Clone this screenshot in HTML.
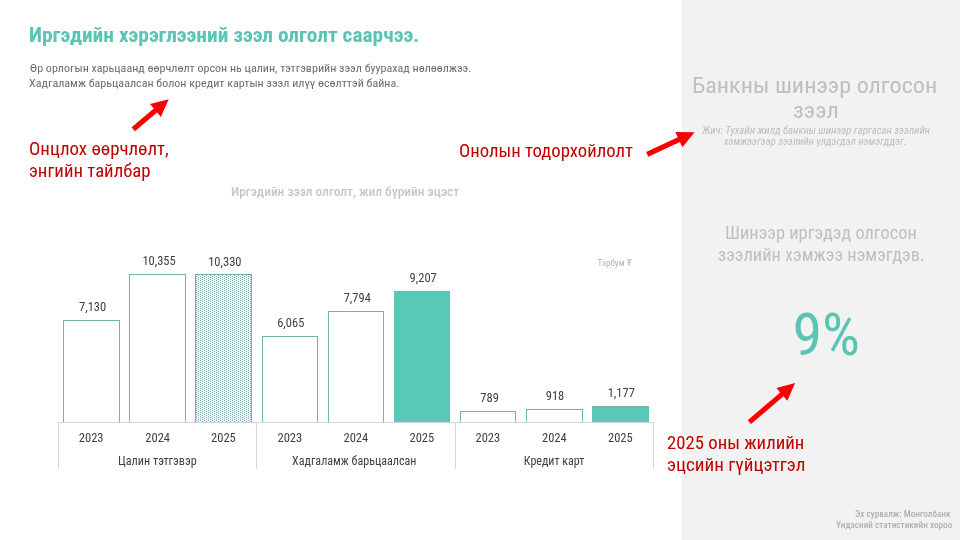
<!DOCTYPE html>
<html lang="mn">
<head>
<meta charset="utf-8">
<title>Иргэдийн хэрэглээний зээл олголт саарчээ.</title>
<style>
html,body{margin:0;padding:0;}
body{width:960px;height:540px;overflow:hidden;position:relative;background:#ffffff;font-family:'Roboto Condensed','Liberation Sans Narrow','Liberation Sans',sans-serif;}
#panel{position:absolute;left:682px;top:0;width:278px;height:540px;background:#f2f2f2;}
svg{position:absolute;left:0;top:0;}
.t{position:absolute;white-space:nowrap;transform-origin:0 0;}
</style>
</head>
<body>
<div id="panel"></div>
<svg width="960" height="540" viewBox="0 0 960 540" shape-rendering="crispEdges">
<defs>
<pattern id="dots" patternUnits="userSpaceOnUse" x="0" y="0" width="4" height="2">
<rect x="0" y="0" width="4" height="2" fill="#ebf8f8"/>
<rect x="0" y="0" width="1" height="1" fill="#86aeb3"/>
<rect x="2" y="1" width="1" height="1" fill="#86aeb3"/>
</pattern>
</defs>
<rect x="63" y="320" width="57" height="102" fill="#72b3a9"/>
<rect x="64" y="321" width="55" height="101" fill="#ffffff"/>
<rect x="129" y="274" width="57" height="148" fill="#72b3a9"/>
<rect x="130" y="275" width="55" height="147" fill="#ffffff"/>
<rect x="195" y="274" width="57" height="148" fill="#72b3a9"/>
<rect x="196" y="275" width="55" height="147" fill="url(#dots)"/>
<rect x="262" y="336" width="56" height="86" fill="#72b3a9"/>
<rect x="263" y="337" width="54" height="85" fill="#ffffff"/>
<rect x="328" y="311" width="56" height="111" fill="#72b3a9"/>
<rect x="329" y="312" width="54" height="110" fill="#ffffff"/>
<rect x="394" y="291" width="56" height="131" fill="#5ac8b7"/>
<rect x="394" y="291" width="56" height="1" fill="#6db8ab"/>
<rect x="460" y="411" width="56" height="11" fill="#72b3a9"/>
<rect x="461" y="412" width="54" height="10" fill="#ffffff"/>
<rect x="526" y="409" width="57" height="13" fill="#72b3a9"/>
<rect x="527" y="410" width="55" height="12" fill="#ffffff"/>
<rect x="592" y="406" width="57" height="16" fill="#5ac8b7"/>
<rect x="592" y="406" width="57" height="1" fill="#6db8ab"/>
<rect x="58" y="422" width="596" height="1" fill="#d6d6d6"/>
<rect x="58" y="422" width="1" height="47" fill="#d6d6d6"/>
<rect x="256" y="422" width="1" height="47" fill="#d6d6d6"/>
<rect x="455" y="422" width="1" height="47" fill="#d6d6d6"/>
<rect x="653" y="422" width="1" height="47" fill="#d6d6d6"/>
</svg>
<div class="t" style="left:29.06px;top:21.50px;font-size:20.5px;line-height:26.65px;color:#5bc4b2;font-weight:700;transform:scaleX(1.0433);">Иргэдийн хэрэглээний зээл олголт саарчээ.</div>
<div class="t" style="left:30.00px;top:61.90px;font-size:11.1px;line-height:14.43px;color:#6c6c6c;transform:scaleX(1.0862);">Өр орлогын харьцаанд өөрчлөлт орсон нь цалин, тэтгэврийн зээл буурахад нөлөөлжээ.</div>
<div class="t" style="left:28.91px;top:76.50px;font-size:11.1px;line-height:14.43px;color:#6c6c6c;transform:scaleX(1.0878);">Хадгаламж барьцаалсан болон кредит картын зээл илүү өсөлттэй байна.</div>
<div class="t" style="left:28.69px;top:136.50px;font-size:18.6px;line-height:24.18px;color:#c00000;transform:scaleX(1.0132);">Онцлох өөрчлөлт,</div>
<div class="t" style="left:28.99px;top:158.90px;font-size:18.6px;line-height:24.18px;color:#c00000;transform:scaleX(1.0084);">энгийн тайлбар</div>
<div class="t" style="left:458.70px;top:138.90px;font-size:18.6px;line-height:24.18px;color:#c00000;transform:scaleX(1.0047);">Онолын тодорхойлолт</div>
<div class="t" style="left:667.48px;top:430.60px;font-size:18.4px;line-height:23.92px;color:#c00000;transform:scaleX(1.0180);">2025 оны жилийн</div>
<div class="t" style="left:667.26px;top:452.60px;font-size:18.4px;line-height:23.92px;color:#c00000;transform:scaleX(1.0351);">эцсийн гүйцэтгэл</div>
<div class="t" style="left:230.81px;top:185.00px;font-size:12.3px;line-height:15.99px;color:#c6c6c6;font-weight:500;transform:scaleX(1.0875);">Иргэдийн зээл олголт, жил бүрийн эцэст</div>
<div class="t" style="left:597.50px;top:257.80px;font-size:9.1px;line-height:11.83px;color:#b2b2b2;">Тэрбум <span style="font-family:'DejaVu Sans Condensed',sans-serif">₮</span></div>
<div class="t" style="left:692.49px;top:70.70px;font-size:22.9px;line-height:29.77px;color:#bfbfbf;transform:scaleX(1.0537);">Банкны шинээр олгосон</div>
<div class="t" style="left:792.80px;top:96.20px;font-size:22.9px;line-height:29.77px;color:#bfbfbf;transform:scaleX(1.0537);">зээл</div>
<div class="t" style="left:701.80px;top:124.00px;font-size:10.7px;line-height:13.91px;color:#bdbdbd;font-style:italic;transform:scaleX(1.0075);">Жич: Тухайн жилд банкны шинээр гаргасан зээлийн</div>
<div class="t" style="left:724.10px;top:135.30px;font-size:10.7px;line-height:13.91px;color:#bdbdbd;font-style:italic;transform:scaleX(1.0044);">хэмжээгээр зээлийн үлдэгдэл нэмэгддэг.</div>
<div class="t" style="left:725.37px;top:220.75px;font-size:17.9px;line-height:23.27px;color:#bfbfbf;transform:scaleX(1.0262);">Шинээр иргэдэд олгосон</div>
<div class="t" style="left:717.87px;top:242.60px;font-size:17.9px;line-height:23.27px;color:#bfbfbf;transform:scaleX(1.0261);">зээлийн хэмжээ нэмэгдэв.</div>
<div class="t" style="left:792.45px;top:296.00px;font-size:60.0px;line-height:78.0px;color:#5bc4b2;">9%</div>
<div class="t" style="left:855.00px;top:508.90px;font-size:8.9px;line-height:11.57px;color:#b0b0b0;font-weight:500;transform:scaleX(1.0348);">Эх сурвалж: Монголбанк</div>
<div class="t" style="left:836.10px;top:519.80px;font-size:8.9px;line-height:11.57px;color:#b0b0b0;font-weight:500;transform:scaleX(1.0393);">Үндэсний статистикийн хороо</div>
<div class="t" style="left:79.00px;top:299.00px;font-size:12.5px;line-height:16.25px;color:#404040;">7,130</div>
<div class="t" style="left:142.38px;top:252.80px;font-size:12.5px;line-height:16.25px;color:#404040;">10,355</div>
<div class="t" style="left:208.20px;top:253.90px;font-size:12.5px;line-height:16.25px;color:#404040;">10,330</div>
<div class="t" style="left:277.20px;top:315.00px;font-size:12.5px;line-height:16.25px;color:#404040;">6,065</div>
<div class="t" style="left:343.70px;top:289.90px;font-size:12.5px;line-height:16.25px;color:#404040;">7,794</div>
<div class="t" style="left:409.60px;top:269.90px;font-size:12.5px;line-height:16.25px;color:#404040;">9,207</div>
<div class="t" style="left:480.35px;top:389.90px;font-size:12.5px;line-height:16.25px;color:#404040;">789</div>
<div class="t" style="left:545.75px;top:387.90px;font-size:12.5px;line-height:16.25px;color:#404040;">918</div>
<div class="t" style="left:607.70px;top:385.20px;font-size:12.5px;line-height:16.25px;color:#404040;">1,177</div>
<div class="t" style="left:78.80px;top:430.20px;font-size:12.5px;line-height:16.25px;color:#404040;">2023</div>
<div class="t" style="left:145.35px;top:430.20px;font-size:12.5px;line-height:16.25px;color:#404040;">2024</div>
<div class="t" style="left:211.10px;top:430.20px;font-size:12.5px;line-height:16.25px;color:#404040;">2025</div>
<div class="t" style="left:277.50px;top:430.20px;font-size:12.5px;line-height:16.25px;color:#404040;">2023</div>
<div class="t" style="left:343.50px;top:430.20px;font-size:12.5px;line-height:16.25px;color:#404040;">2024</div>
<div class="t" style="left:409.50px;top:430.20px;font-size:12.5px;line-height:16.25px;color:#404040;">2025</div>
<div class="t" style="left:475.50px;top:430.20px;font-size:12.5px;line-height:16.25px;color:#404040;">2023</div>
<div class="t" style="left:542.00px;top:430.20px;font-size:12.5px;line-height:16.25px;color:#404040;">2024</div>
<div class="t" style="left:608.00px;top:430.20px;font-size:12.5px;line-height:16.25px;color:#404040;">2025</div>
<div class="t" style="left:117.99px;top:453.80px;font-size:12.0px;line-height:15.6px;color:#404040;transform:scaleX(1.0132);">Цалин тэтгэвэр</div>
<div class="t" style="left:292.30px;top:453.80px;font-size:12.0px;line-height:15.6px;color:#404040;transform:scaleX(1.0049);">Хадгаламж барьцаалсан</div>
<div class="t" style="left:523.80px;top:453.80px;font-size:12.0px;line-height:15.6px;color:#404040;">Кредит карт</div>
<svg width="960" height="540" viewBox="0 0 960 540">
<g fill="#fa0000">
<polygon points="134.89,131.20 157.10,112.47 160.87,116.94 168.75,99.30 150.03,104.10 153.81,108.57 131.61,127.30"/>
<polygon points="648.28,156.71 679.91,141.96 682.38,147.27 694.60,132.30 675.28,132.04 677.75,137.34 646.12,152.09"/>
<polygon points="751.01,424.09 783.52,396.34 787.32,400.79 795.10,383.10 776.41,388.01 780.21,392.46 747.69,420.21"/>
</g>
</svg>
<script>
(function(){
var W=[374.12, 406.45, 340.55, 137.98, 120.55, 173.09, 134.89, 133.72, 209.8, 34.33, 232.72, 43.38, 226.39, 181.73, 186.84, 201.53, 67.59, 92.3, 111.88, 27.16, 33.33, 33.33, 27.16, 27.16, 27.16, 18.52, 18.52, 27.16, 24.69, 24.69, 24.69, 24.69, 24.69, 24.69, 24.69, 24.69, 24.69, 77.67, 123.88, 60.61];
var S=[1.0433, 1.0862, 1.0878, 1.0132, 1.0084, 1.0047, 1.018, 1.0351, 1.0875, 1.0, 1.0537, 1.0537, 1.0075, 1.0044, 1.0262, 1.0261, 1.0, 1.0348, 1.0393, 1.0, 1.0, 1.0, 1.0, 1.0, 1.0, 1.0, 1.0, 1.0, 1.0, 1.0, 1.0, 1.0, 1.0, 1.0, 1.0, 1.0, 1.0, 1.0132, 1.0049, 1.0];
var els=document.querySelectorAll('.t');
for(var i=0;i<els.length&&i<W.length;i++){
var ow=els[i].offsetWidth;
if(ow>0&&Math.abs(ow/W[i]-1)>0.03){els[i].style.transform='scaleX('+(S[i]*W[i]/ow).toFixed(4)+')';}
}
})();
</script>
</body>
</html>
